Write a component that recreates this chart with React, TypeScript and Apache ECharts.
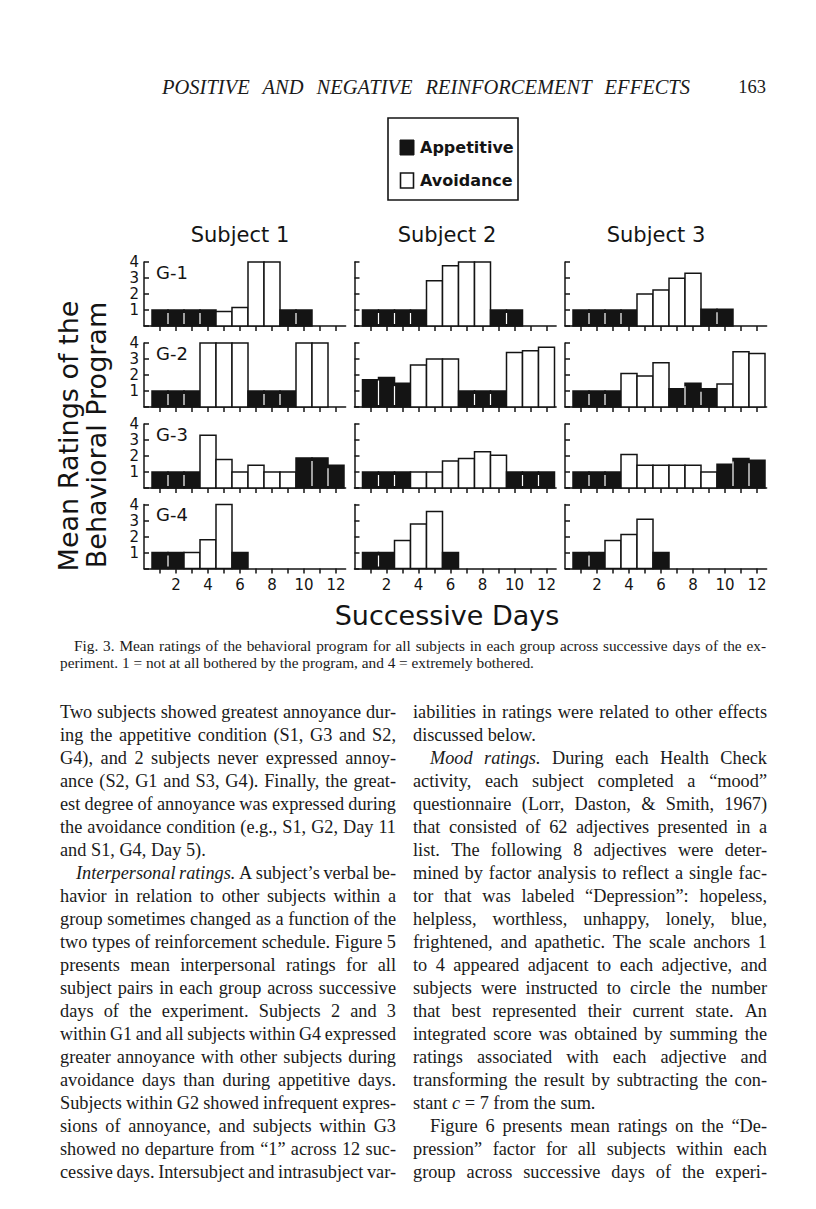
import React, { useEffect, useRef } from "react";
import * as echarts from "echarts";

const INK = "#141414";
const FIG_FONT = '"DejaVu Sans", sans-serif';
const SERIF = '"Liberation Serif", serif';

// ---------- chart data ----------
const DAYS = [1, 2, 3, 4, 5, 6, 7, 8, 9, 10, 11, 12];
const X_LABEL_DAYS = [2, 4, 6, 8, 10, 12];
const RATING_TICKS = [1, 2, 3, 4];
const SUBJECTS = ["Subject 1", "Subject 2", "Subject 3"];
const GROUPS = ["G-1", "G-2", "G-3", "G-4"];
const LEGEND = ["Appetitive", "Avoidance"];

// 1 = Appetitive (black), 0 = Avoidance (white), null = no session
const COND_G1 = [1, 1, 1, 1, 0, 0, 0, 0, 1, 1, null, null];
const COND_G2 = [1, 1, 1, 0, 0, 0, 1, 1, 1, 0, 0, 0];
const COND_G3 = [1, 1, 1, 0, 0, 0, 0, 0, 0, 1, 1, 1];
const COND_G4 = [1, 1, 0, 0, 0, 1, null, null, null, null, null, null];

const S1_G1 = [1, 1, 1, 1, 0.9, 1.15, 4, 4, 1, 1, null, null];
const S2_G1 = [1, 1, 1, 1, 2.83, 3.77, 4, 4, 1, 1, null, null];
const S3_G1 = [1, 1, 1, 1, 2.0, 2.25, 2.98, 3.3, 1.05, 1.05, null, null];

const S1_G2 = [1, 1, 1, 4, 4, 4, 1, 1, 1, 4, 4, null];
const S2_G2 = [1.7, 1.84, 1.49, 2.63, 3.0, 3.0, 1, 1, 1, 3.4, 3.52, 3.73];
const S3_G2 = [1, 1, 1, 2.1, 1.93, 2.77, 1.14, 1.49, 1.14, 1.43, 3.46, 3.35];

const S1_G3 = [1, 1, 1, 3.3, 1.78, 1, 1.42, 1, 1, 1.88, 1.88, 1.42];
const S2_G3 = [1, 1, 1, 1, 1, 1.69, 1.84, 2.26, 2.05, 1, 1, 1];
const S3_G3 = [1, 1, 1, 2.1, 1.42, 1.42, 1.42, 1.42, 1.0, 1.48, 1.84, 1.73];

const S1_G4 = [1, 1, 1, 1.8, 4, 1, null, null, null, null, null, null];
const S2_G4 = [1, 1, 1.75, 2.78, 3.57, 1, null, null, null, null, null, null];
const S3_G4 = [1, 1, 1.75, 2.13, 3.08, 1, null, null, null, null, null, null];

const ROWS = [
  { cond: COND_G1, subjects: [S1_G1, S2_G1, S3_G1] },
  { cond: COND_G2, subjects: [S1_G2, S2_G2, S3_G2] },
  { cond: COND_G3, subjects: [S1_G3, S2_G3, S3_G3] },
  { cond: COND_G4, subjects: [S1_G4, S2_G4, S3_G4] },
];

// ---------- page text ----------
const HEADER = "POSITIVE AND NEGATIVE REINFORCEMENT EFFECTS";
const PAGE_NO = "163";
const CAPTION = [
  "Fig. 3. Mean ratings of the behavioral program for all subjects in each group across successive days of the ex-",
  "periment. 1 = not at all bothered by the program, and 4 = extremely bothered.",
];
const LEFT_COL = [
  "Two subjects showed greatest annoyance dur-",
  "ing the appetitive condition (S1, G3 and S2,",
  "G4), and 2 subjects never expressed annoy-",
  "ance (S2, G1 and S3, G4). Finally, the great-",
  "est degree of annoyance was expressed during",
  "the avoidance condition (e.g., S1, G2, Day 11",
  "and S1, G4, Day 5).",
  "*Interpersonal* *ratings.* A subject’s verbal be-",
  "havior in relation to other subjects within a",
  "group sometimes changed as a function of the",
  "two types of reinforcement schedule. Figure 5",
  "presents mean interpersonal ratings for all",
  "subject pairs in each group across successive",
  "days of the experiment. Subjects 2 and 3",
  "within G1 and all subjects within G4 expressed",
  "greater annoyance with other subjects during",
  "avoidance days than during appetitive days.",
  "Subjects within G2 showed infrequent expres-",
  "sions of annoyance, and subjects within G3",
  "showed no departure from “1” across 12 suc-",
  "cessive days. Intersubject and intrasubject var-",
];
const LEFT_INDENT = [7];
const LEFT_LAST = [6];
const RIGHT_COL = [
  "iabilities in ratings were related to other effects",
  "discussed below.",
  "*Mood* *ratings.* During each Health Check",
  "activity, each subject completed a “mood”",
  "questionnaire (Lorr, Daston, & Smith, 1967)",
  "that consisted of 62 adjectives presented in a",
  "list. The following 8 adjectives were deter-",
  "mined by factor analysis to reflect a single fac-",
  "tor that was labeled “Depression”: hopeless,",
  "helpless, worthless, unhappy, lonely, blue,",
  "frightened, and apathetic. The scale anchors 1",
  "to 4 appeared adjacent to each adjective, and",
  "subjects were instructed to circle the number",
  "that best represented their current state. An",
  "integrated score was obtained by summing the",
  "ratings associated with each adjective and",
  "transforming the result by subtracting the con-",
  "stant *c* = 7 from the sum.",
  "Figure 6 presents mean ratings on the “De-",
  "pression” factor for all subjects within each",
  "group across successive days of the experi-",
];
const RIGHT_INDENT = [2, 18];
const RIGHT_LAST = [1, 17];

// ---------- layout ----------
const COL_LEFT = [144, 354.5, 565];
const ROW_BASE = [326, 407, 488, 568.5];
const PANEL_H = 64;
const X_MAX = 12.6;
const PX_PER_DAY = 16;
const BODY_SIZE = 18.3;

let measureCtx: CanvasRenderingContext2D | null = null;
function measure(text: string, font: string) {
  if (!measureCtx) measureCtx = document.createElement("canvas").getContext("2d");
  measureCtx!.font = font;
  return measureCtx!.measureText(text).width;
}

function textLine(
  out: any[],
  text: string,
  x0: number,
  x1: number,
  y: number,
  size: number,
  justify: boolean,
  allItalic = false,
  fill = "#1a1a1a"
) {
  const words = text.split(" ").filter((w) => w.length).map((w) => {
    const marked = w.length > 2 && w.startsWith("*") && w.endsWith("*");
    const it = allItalic || marked;
    const t = marked ? w.slice(1, -1) : w;
    const font = `${it ? "italic " : ""}${size}px "Liberation Serif"`;
    return { t, it, w: measure(t, font) };
  });
  const sum = words.reduce((a, b) => a + b.w, 0);
  const space = measure(" ", `${size}px "Liberation Serif"`);
  const minGap = size * 0.2;
  let scale = 1;
  let gap = space;
  if (justify && words.length > 1) {
    gap = (x1 - x0 - sum) / (words.length - 1);
    if (gap < minGap) {
      scale = (x1 - x0 - minGap * (words.length - 1)) / sum;
      gap = minGap;
    }
  }
  let x = x0;
  words.forEach((wd) => {
    out.push({
      type: "text",
      x,
      y,
      scaleX: scale,
      silent: true,
      style: {
        text: wd.t,
        fontSize: size,
        fontFamily: SERIF,
        fontStyle: wd.it ? "italic" : "normal",
        fill,
        textAlign: "left",
        textVerticalAlign: "middle",
        align: "left",
        verticalAlign: "middle",
      },
    });
    x += wd.w * scale + gap;
  });
}

function figText(text: string, x: number, y: number, size: number, extra: any = {}) {
  return {
    type: "text",
    x,
    y,
    silent: true,
    rotation: extra.rotation || 0,
    style: {
      text,
      fontSize: size,
      fontFamily: FIG_FONT,
      fontWeight: extra.fontWeight || "normal",
      fill: INK,
      textAlign: extra.align || "center",
      textVerticalAlign: "middle",
      align: extra.align || "center",
      verticalAlign: "middle",
    },
  };
}

function renderBar(params: any, api: any) {
  const day = api.value(0);
  const val = api.value(1);
  const app = api.value(2);
  const prevApp = api.value(3);
  const tl = api.coord([day - 0.5, val]);
  const br = api.coord([day + 0.5, 0]);
  const children: any[] = [
    {
      type: "rect",
      shape: { x: tl[0], y: tl[1], width: br[0] - tl[0], height: br[1] - tl[1] },
      style: { fill: app ? INK : "#ffffff", stroke: INK, lineWidth: 1.5 },
    },
  ];
  if (app && prevApp) {
    children.push({
      type: "line",
      shape: { x1: tl[0], y1: tl[1] + 3, x2: tl[0], y2: br[1] - 2 },
      style: { stroke: "#ffffff", lineWidth: 1.2 },
    });
  }
  return { type: "group", children };
}

function buildOption() {
  const grid: any[] = [];
  const xAxis: any[] = [];
  const yAxis: any[] = [];
  const series: any[] = [];
  const axisLineStyle = { color: INK, width: 1.5 };

  ROWS.forEach((row, r) => {
    row.subjects.forEach((vals, c) => {
      const idx = grid.length;
      grid.push({
        left: COL_LEFT[c],
        top: ROW_BASE[r] - PANEL_H,
        width: X_MAX * PX_PER_DAY,
        height: PANEL_H,
        containLabel: false,
      });
      xAxis.push({
        type: "value",
        gridIndex: idx,
        min: 0,
        max: X_MAX,
        axisLine: { show: true, onZero: true, lineStyle: axisLineStyle },
        axisTick: { show: true, length: 5, customValues: DAYS, lineStyle: axisLineStyle },
        axisLabel: {
          show: r === ROWS.length - 1,
          customValues: X_LABEL_DAYS,
          margin: 9,
          fontSize: 15,
          fontFamily: FIG_FONT,
          color: INK,
        },
        splitLine: { show: false },
      });
      yAxis.push({
        type: "value",
        gridIndex: idx,
        min: 0,
        max: 4,
        interval: 1,
        axisLine: { show: true, lineStyle: axisLineStyle },
        axisTick: { show: true, inside: true, length: 5, lineStyle: axisLineStyle },
        axisLabel: {
          show: c === 0,
          margin: 5,
          fontSize: 15,
          fontFamily: FIG_FONT,
          color: INK,
          formatter: (v: number) => (RATING_TICKS.includes(v) ? String(v) : ""),
        },
        splitLine: { show: false },
      });
      const data: number[][] = [];
      vals.forEach((v, i) => {
        if (v == null || row.cond[i] == null) return;
        const prev = i > 0 && vals[i - 1] != null && row.cond[i - 1] === 1 ? 1 : 0;
        data.push([DAYS[i], v, row.cond[i] as number, prev]);
      });
      series.push({
        type: "custom",
        name: `${SUBJECTS[c]} ${GROUPS[r]}`,
        xAxisIndex: idx,
        yAxisIndex: idx,
        dimensions: ["day", "rating", "appetitive", "prevAppetitive"],
        encode: { x: 0, y: 1 },
        renderItem: renderBar,
        data,
        silent: true,
      });
    });
  });

  const g: any[] = [];
  // header
  textLine(g, HEADER, 162, 690, 87, 20.5, true, true, "#1a1a1a");
  g.push({
    type: "text",
    x: 766,
    y: 87,
    silent: true,
    style: {
      text: PAGE_NO,
      fontSize: 18.5,
      fontFamily: SERIF,
      fill: "#1a1a1a",
      textAlign: "right",
      textVerticalAlign: "middle",
      align: "right",
      verticalAlign: "middle",
    },
  });

  // legend
  g.push({ type: "rect", shape: { x: 388, y: 118, width: 130, height: 82 }, style: { fill: "#fff", stroke: INK, lineWidth: 1.6 }, silent: true });
  g.push({ type: "rect", shape: { x: 400, y: 140, width: 14, height: 15 }, style: { fill: INK, stroke: INK, lineWidth: 1 }, silent: true });
  g.push({ type: "rect", shape: { x: 400.5, y: 173, width: 13, height: 15 }, style: { fill: "#fff", stroke: INK, lineWidth: 1.6 }, silent: true });
  g.push(figText(LEGEND[0], 420, 147, 16, { align: "left", fontWeight: "bold" }));
  g.push(figText(LEGEND[1], 420, 180, 16, { align: "left", fontWeight: "bold" }));

  // subject titles
  [240, 447, 656].forEach((x, i) => g.push(figText(SUBJECTS[i], x, 235, 21)));

  // group labels
  GROUPS.forEach((lab, r) => g.push(figText(lab, 156, ROW_BASE[r] - PANEL_H + 10, 18, { align: "left" })));

  // axis titles
  g.push(figText("Mean Ratings of the", 68, 436, 27, { rotation: Math.PI / 2 }));
  g.push(figText("Behavioral Program", 96, 435, 27, { rotation: Math.PI / 2 }));
  g.push(figText("Successive Days", 447, 615, 27));

  // caption
  textLine(g, CAPTION[0], 74, 766, 645, 15.3, true);
  textLine(g, CAPTION[1], 60, 766, 662, 15.3, false);

  // body columns
  const LINE0 = 712;
  const STEP = 23;
  LEFT_COL.forEach((ln, i) => {
    const indent = LEFT_INDENT.includes(i) ? 16 : 0;
    textLine(g, ln, 60 + indent, 396, LINE0 + i * STEP, BODY_SIZE, !LEFT_LAST.includes(i));
  });
  RIGHT_COL.forEach((ln, i) => {
    const indent = RIGHT_INDENT.includes(i) ? 17 : 0;
    textLine(g, ln, 413 + indent, 767, LINE0 + i * STEP, BODY_SIZE, !RIGHT_LAST.includes(i));
  });

  return {
    animation: false,
    backgroundColor: "#ffffff",
    grid,
    xAxis,
    yAxis,
    series,
    graphic: { elements: g },
  };
}

export default function App() {
  const ref = useRef<HTMLDivElement>(null);
  useEffect(() => {
    document.body.style.margin = "0";
    const chart = echarts.init(ref.current!, null, { renderer: "svg", width: 816, height: 1209 });
    chart.setOption(buildOption() as any);
    return () => chart.dispose();
  }, []);
  return <div ref={ref} style={{ width: 816, height: 1209, background: "#fff" }} />;
}
